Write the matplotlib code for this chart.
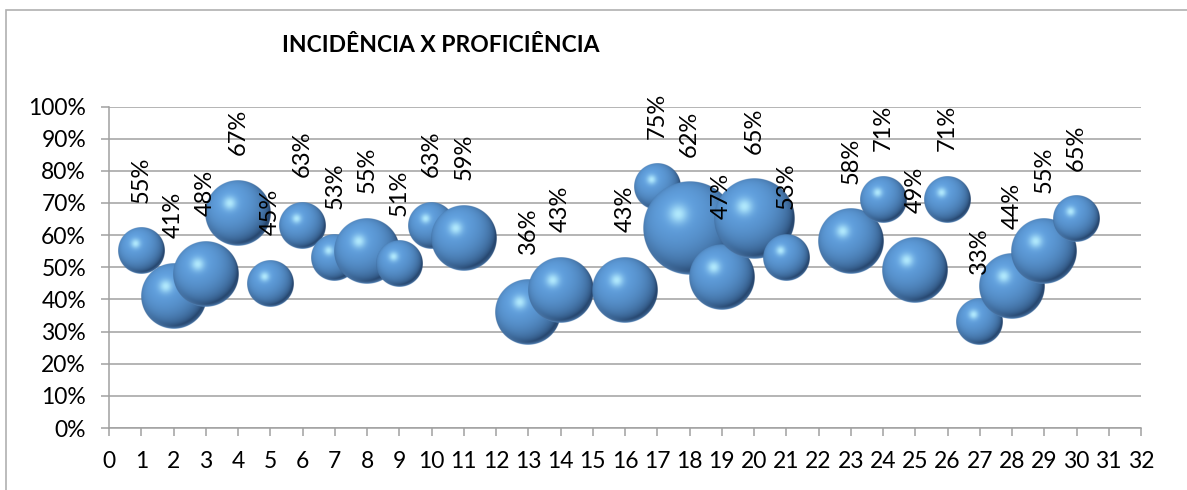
import numpy as np
import matplotlib
matplotlib.use('Agg')
import matplotlib.pyplot as plt
from matplotlib.patches import Rectangle
from matplotlib.ticker import PercentFormatter, MultipleLocator

plt.rcParams['font.family'] = ['Lato', 'DejaVu Sans']

# escola (eixo x), proficiência (%) e incidência (tamanho da bolha)
escola = [1, 2, 3, 4, 5, 6, 7, 8, 9, 10, 11, 13, 14, 16, 17, 18, 19, 20, 21,
          23, 24, 25, 26, 27, 28, 29, 30]
proficiencia = [55, 41, 48, 67, 45, 63, 53, 55, 51, 63, 59, 36, 43, 43, 75, 62,
                47, 65, 53, 58, 71, 49, 71, 33, 44, 55, 65]
incidencia = [1, 2, 2, 2, 1, 1, 1, 2, 1, 1, 2, 2, 2, 2, 1, 4, 2, 3, 1, 2, 1, 2,
              1, 1, 2, 2, 1]

W, H = 1187, 490
RAIO_BASE = 23.3      # raio em pixels de uma bolha de incidência 1
GRID = '#a0a0a0'


def esfera(n=256):
    """Textura RGBA de uma esfera azul com brilho no canto superior esquerdo."""
    t = np.linspace(-1, 1, n)
    u, v = np.meshgrid(t, t)
    rho = np.sqrt(u**2 + v**2)
    nz = np.sqrt(np.clip(1 - rho**2, 0, None))
    luz = np.array([-0.3, 0.4, 0.87])
    luz /= np.linalg.norm(luz)
    difusa = np.clip(u * luz[0] - v * luz[1] + nz * luz[2], 0, 1)
    escuro = np.array([38, 70, 110]) / 255
    corpo = np.array([98, 162, 225]) / 255
    cor = escuro + (corpo - escuro) * difusa[..., None] ** 0.7
    brilho = 0.9 * np.exp(-((u + 0.25)**2 + (v + 0.3)**2) / (2 * 0.14**2))
    claro = np.array([185, 240, 255]) / 255
    cor = cor * (1 - brilho[..., None]) + claro * brilho[..., None]
    borda = 0.75 * np.clip((rho - 0.84) / 0.16, 0, 1)**2 * np.clip(v, 0, 1)**1.5
    reflexo = np.array([110, 165, 222]) / 255
    cor = cor * (1 - borda[..., None]) + reflexo * borda[..., None]
    alfa = np.clip((1 - rho) * n / 2, 0, 1)
    return np.dstack([np.clip(cor, 0, 1), alfa])


fig = plt.figure(figsize=(W / 100, H / 100), dpi=100)
ax = fig.add_axes([109 / W, 1 - 428 / H, 1032 / W, 321.5 / H])

# moldura externa do gráfico
fig.add_artist(Rectangle((6 / W, -0.1), 1.2, (H - 10) / H + 0.1,
                         transform=fig.transFigure, fill=False,
                         edgecolor='#b0b0b0', lw=1.2))

ax.set_xlim(0, 32)
ax.set_ylim(0, 1)
px_x = 1032 / 32
px_y = 321.5

img = esfera()
for i, (x, p, s) in enumerate(zip(escola, proficiencia, incidencia)):
    y = p / 100
    r = RAIO_BASE * np.sqrt(s)
    rx, ry = r / px_x, r / px_y
    ax.imshow(img, extent=[x - rx, x + rx, y - ry, y + ry], origin='upper',
              zorder=3 + i * 0.01)
    ax.annotate(f'{p}%', (x, y), xytext=(0, (r + 25) * 0.72),
                textcoords='offset points', rotation=90, ha='center',
                va='bottom', fontsize=17, color='black', zorder=10)

ax.set_xlim(0, 32)
ax.set_ylim(0, 1)
ax.set_aspect('auto')

ax.xaxis.set_major_locator(MultipleLocator(1))
ax.yaxis.set_major_locator(MultipleLocator(0.1))
ax.yaxis.set_major_formatter(PercentFormatter(1.0, decimals=0))
ax.grid(axis='y', color=GRID, lw=1.1, zorder=0)
ax.set_axisbelow(True)
for lado in ['top', 'right']:
    ax.spines[lado].set_visible(False)
for lado in ['left', 'bottom']:
    ax.spines[lado].set_color(GRID)
    ax.spines[lado].set_linewidth(1.1)
ax.tick_params(axis='both', direction='out', length=5.5, width=1.1,
               color=GRID, labelsize=16.5, labelcolor='black')
ax.tick_params(axis='y', pad=11)
ax.tick_params(axis='x', pad=11)

fig.text(441 / W, 1 - 45 / H, 'INCIDÊNCIA X PROFICIÊNCIA', ha='center',
         va='center', fontsize=16.5, fontweight='bold')

fig.savefig('out.png', dpi=100)
